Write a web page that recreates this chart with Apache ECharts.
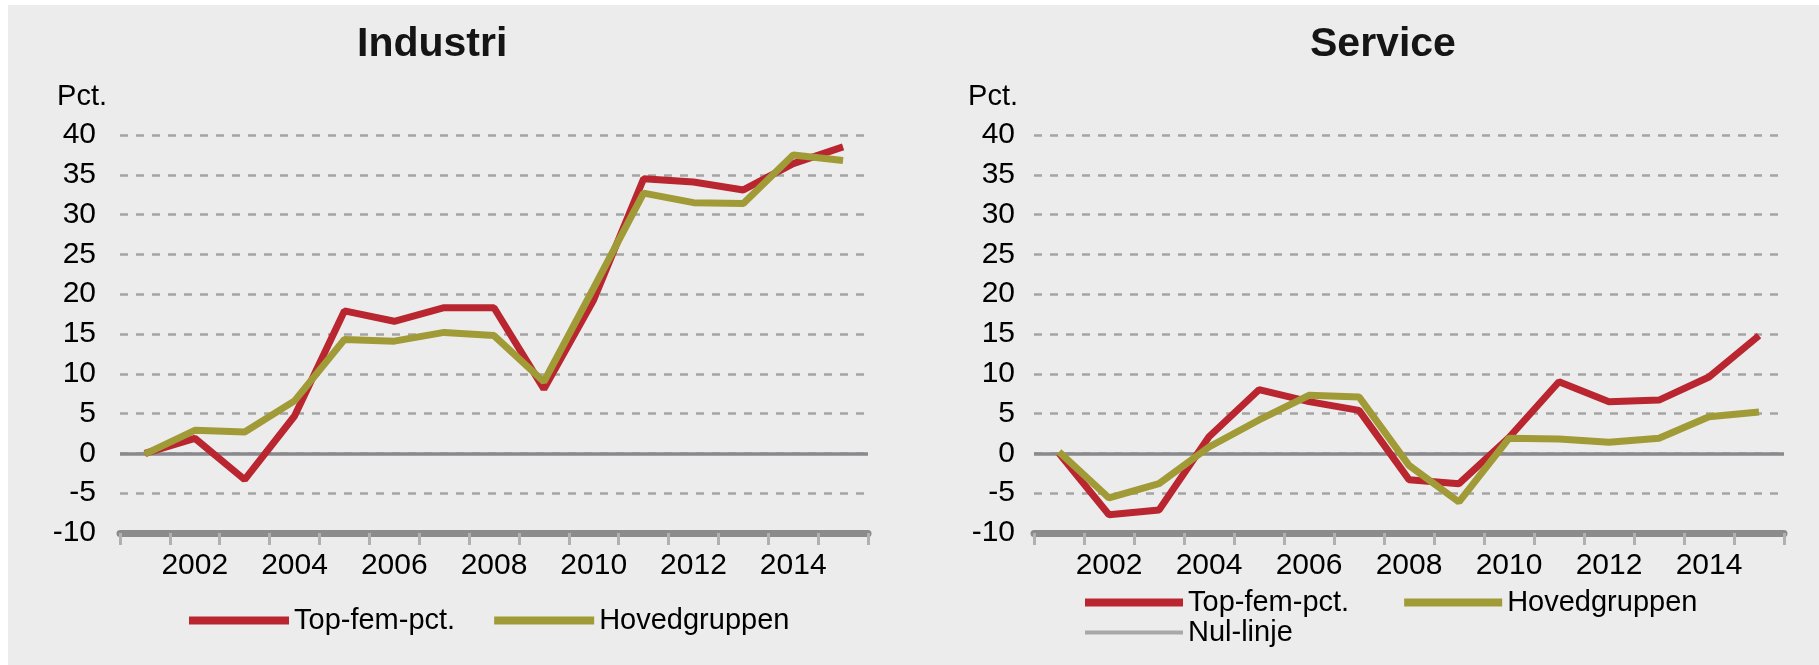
<!DOCTYPE html>
<html><head><meta charset="utf-8">
<script src="https://cdn.jsdelivr.net/npm/echarts@6/dist/echarts.min.js"></script>
<style>
html,body{margin:0;padding:0;background:#fff;}
#chart{position:absolute;left:0;top:0;width:1819px;height:665px;}
.strip{position:absolute;background:#fff;}
</style></head><body>
<div id="chart"></div>
<div class="strip" style="left:0;top:0;width:8px;height:665px"></div>
<div class="strip" style="left:0;top:0;width:1819px;height:5px"></div>
<script>
// ---- data ----
const years = ['2001','2002','2003','2004','2005','2006','2007','2008','2009','2010','2011','2012','2013','2014','2015'];
const industriTop   = [0, 1.9, -3.3, 4.7, 17.9, 16.6, 18.3, 18.3, 8.1, 19.3, 34.5, 34.1, 33.1, 36.4, 38.5];
const industriHoved = [-0.1, 2.9, 2.7, 6.6, 14.3, 14.1, 15.2, 14.8, 9.0, 20.8, 32.7, 31.5, 31.4, 37.5, 36.8];
const serviceTop    = [0, -7.7, -7.1, 2.1, 8.0, 6.5, 5.4, -3.3, -3.8, 2.0, 9.0, 6.5, 6.7, 9.6, 14.8];
const serviceHoved  = [0.2, -5.6, -3.8, 0.8, 4.2, 7.3, 7.1, -1.5, -6.1, 1.9, 1.8, 1.4, 1.9, 4.6, 5.2];
const titles = ['Industri', 'Service'];
const seriesNames = ['Top-fem-pct.', 'Hovedgruppen', 'Nul-linje'];
const yUnit = 'Pct.';

const RED = '#b92630', OLIVE = '#a09b37', ZERO = '#8a8a8e', NUL = '#a8a8a8';
const FONT = "'Liberation Sans', Arial, sans-serif";

const chart = echarts.init(document.getElementById('chart'), null, {renderer: 'canvas'});

function xAxis(gi) {
  return {
    type: 'category', gridIndex: gi, data: years, boundaryGap: true,
    axisLine: {show: true, onZero: false, lineStyle: {color: '#8b8b8b', width: 7}},
    axisTick: {show: true, interval: 0, length: 12, lineStyle: {color: '#b0b0b0', width: 3}},
    axisLabel: {interval: function (i) { return i % 2 === 1; }, margin: 18, fontSize: 30, color: '#000', fontFamily: FONT},
    splitLine: {show: false}
  };
}
function yAxis(gi, margin, namePad) {
  return {
    type: 'value', gridIndex: gi, min: -10, max: 40, interval: 5,
    name: yUnit, nameLocation: 'end', nameGap: 24,
    nameTextStyle: {fontSize: 29, color: '#000', fontFamily: FONT, align: 'right', padding: [0, namePad, 0, 0]},
    axisLine: {show: false}, axisTick: {show: false},
    axisLabel: {fontSize: 30, color: '#000', margin: margin, fontFamily: FONT},
    splitLine: {show: true, lineStyle: {type: [8, 8], color: '#a4a4a4', width: 2.5}}
  };
}
const zeroMark = {
  silent: true, symbol: ['none', 'none'], label: {show: false}, z: 1,
  lineStyle: {color: ZERO, width: 3.5, type: 'solid'},
  emphasis: {disabled: true},
  data: [{yAxis: 0}]
};
function lineSeries(name, data, color, gi, mark) {
  const s = {
    name: name, type: 'line', xAxisIndex: gi, yAxisIndex: gi, data: data,
    symbol: 'none', showSymbol: false, color: color,
    lineStyle: {color: color, width: 7}, emphasis: {disabled: true}, z: 3
  };
  if (mark) s.markLine = zeroMark;
  return s;
}

const legendText = {fontSize: 29, color: '#000', fontFamily: FONT};
chart.setOption({
  animation: false,
  backgroundColor: '#ececec',
  title: [
    {text: titles[0], left: 352, top: 19, textStyle: {fontSize: 41, fontWeight: 'bold', color: '#151515', fontFamily: FONT}},
    {text: titles[1], left: 1305, top: 19, textStyle: {fontSize: 41, fontWeight: 'bold', color: '#151515', fontFamily: FONT}}
  ],
  grid: [
    {left: 120, right: 951, top: 135, bottom: 132},
    {left: 1034, right: 35, top: 135, bottom: 132}
  ],
  xAxis: [xAxis(0), xAxis(1)],
  yAxis: [yAxis(0, 24, 13), yAxis(1, 19, 16)],
  legend: [
    {data: [seriesNames[0], seriesNames[1]], left: 184, top: 601, icon: 'rect', itemWidth: 100, itemHeight: 8, itemGap: 39, selectedMode: false, textStyle: legendText},
    {data: [seriesNames[0], seriesNames[1]], left: 1080, top: 583, icon: 'rect', itemWidth: 98, itemHeight: 8, itemGap: 55, selectedMode: false, textStyle: legendText},
    {data: [seriesNames[2]], left: 1080, top: 613, icon: 'rect', itemWidth: 98, itemHeight: 4, selectedMode: false, textStyle: legendText}
  ],
  series: [
    lineSeries(seriesNames[0], industriTop, RED, 0, false),
    lineSeries(seriesNames[1], industriHoved, OLIVE, 0, true),
    lineSeries(seriesNames[0], serviceTop, RED, 1, false),
    lineSeries(seriesNames[1], serviceHoved, OLIVE, 1, true),
    {name: seriesNames[2], type: 'line', xAxisIndex: 1, yAxisIndex: 1, data: [], symbol: 'none', color: NUL, lineStyle: {color: NUL, width: 3}}
  ]
});
</script>
</body></html>
